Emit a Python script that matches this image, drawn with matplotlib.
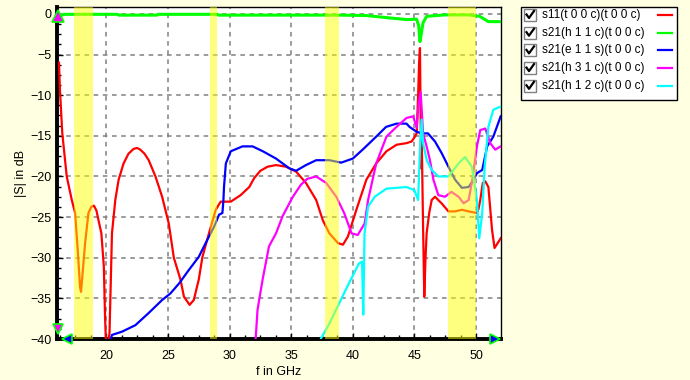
"""S-parameter magnitude plot with highlighted bands and a checkbox legend."""
import matplotlib
matplotlib.use("Agg")
import matplotlib.pyplot as plt
from matplotlib.patches import Rectangle
from matplotlib.lines import Line2D
from matplotlib.ticker import MultipleLocator

plt.rcParams["font.family"] = ["Liberation Sans", "DejaVu Sans"]

# band limits in GHz
bands = [(17.35, 18.95), (28.45, 28.95), (37.75, 38.85), (47.7, 50.0)]

s11_f = [16.16, 16.24, 16.43, 16.79, 17.2, 17.47, 17.68, 17.87, 17.95, 18.1, 18.28,
         18.55, 18.8, 19.0, 19.2, 19.37, 19.6, 19.8, 19.9, 19.97, 20.1, 20.26, 20.46,
         20.73, 21.0, 21.4, 21.8, 22.22, 22.5, 22.76, 23.1, 23.44, 23.99, 24.53, 25.07,
         25.48, 26.02, 26.3, 26.76, 27.1, 27.5, 27.8, 28.33, 28.88, 29.28, 30.1, 30.9,
         31.6, 32.0, 32.5, 33.09, 33.77, 34.58, 35.4, 36.2, 37.03, 37.57, 38.1, 38.8,
         39.2, 39.6, 40.29, 41.1, 41.9, 42.73, 43.55, 44.36, 44.77, 45.0, 45.18, 45.3,
         45.38, 45.45, 45.5, 45.55, 45.6, 45.7, 45.8, 45.9, 45.99, 46.2, 46.4, 46.67,
         47.2, 47.76, 48.3, 48.85, 49.4, 50.07, 50.2, 50.34, 50.55, 50.75, 51.0, 51.3,
         51.5, 51.84, 52.0]
s11_db = [-6.0, -9.4, -14.7, -20.0, -22.9, -24.5, -29.0, -33.6, -34.2, -31.5, -28.2,
          -24.5, -23.7, -23.6, -24.2, -25.4, -27.0, -31.1, -37.3, -40.5, -41.0, -39.3, -27.0,
          -22.9, -20.4, -18.4, -17.2, -16.6, -16.5, -16.7, -17.2, -18.0, -20.0, -22.5, -25.8,
          -30.0, -32.7, -34.8, -35.8, -35.2, -32.7, -29.9, -27.0, -24.1, -23.1, -23.1, -22.3,
          -21.3, -20.2, -19.3, -18.8, -18.6, -18.8, -19.4, -20.8, -22.9, -25.4, -27.0, -28.2,
          -28.4, -27.4, -24.1, -20.4, -18.4, -16.9, -16.1, -15.9, -15.7, -15.2, -14.7, -10.0,
          -6.0, -4.2, -12.0, -19.0, -16.0, -26.0, -34.8, -30.0, -27.0, -24.5, -22.9, -22.5,
          -23.3, -24.3, -24.3, -24.1, -24.3, -24.5, -24.0, -22.9, -20.8, -20.6, -21.3, -26.6,
          -28.8, -28.0, -27.6]

h11_f = [16.1, 16.3, 16.6, 20.9, 21.0, 24.1, 24.2, 29.0, 29.1, 39.0, 41.1, 43.0, 44.4,
         45.18, 45.35, 45.45, 45.55, 45.7, 45.99, 47.48, 49.4, 50.3, 51.0, 52.0]
h11_db = [-0.5, -0.2, -0.05, -0.05, -0.15, -0.15, -0.05, -0.05, -0.15, -0.15, -0.2, -0.5, -0.7,
          -0.65, -1.5, -3.4, -2.5, -1.1, -0.3, -0.12, -0.12, -0.3, -0.95, -0.95]

e11_f = [20.3, 20.46, 21.27, 22.36, 23.44, 24.53, 25.2, 25.94, 26.7, 27.5, 28.06, 28.74,
         29.15, 29.42, 29.5, 29.55, 29.7, 30.1, 31.05, 31.87, 32.7, 33.77, 34.85, 35.4,
         36.2, 37.03, 38.1, 39.06, 40.0, 40.8, 41.9, 42.7, 43.55, 44.36, 44.6, 45.18,
         45.58, 46.1, 46.67, 47.2, 47.76, 48.3, 48.85, 49.4, 49.8, 50.07, 50.5, 50.9,
         51.4, 52.0]
e11_db = [-40.3, -39.5, -39.1, -38.3, -36.8, -35.2, -34.4, -33.1, -31.5, -29.9, -28.2, -26.2,
          -24.7, -24.5, -23.0, -21.3, -18.4, -16.9, -16.3, -16.3, -16.9, -17.8, -19.0, -19.3,
          -18.6, -18.0, -18.0, -18.3, -17.8, -16.7, -15.1, -13.9, -13.5, -13.5, -13.9, -14.5,
          -14.7, -14.7, -15.7, -17.1, -18.8, -20.4, -21.4, -21.3, -20.4, -19.6, -19.2, -16.3,
          -15.1, -12.6]

h31_f = [32.1, 32.13, 32.27, 32.68, 33.2, 33.77, 34.3, 35.1, 35.4, 35.8, 36.3, 37.03, 37.84,
         38.66, 39.3, 39.9, 40.4, 40.96, 41.24, 41.9, 42.73, 43.55, 44.36, 44.9, 45.18,
         45.35, 45.5, 45.6, 45.7, 45.99, 46.26, 46.54, 46.94, 47.48, 48.0, 48.58, 48.99,
         49.4, 49.7, 50.07, 50.34, 50.75, 51.15, 51.56, 52.0]
h31_db = [-40.5, -39.7, -36.4, -32.7, -28.6, -27.0, -24.9, -22.6, -21.9, -21.0, -20.3, -20.0, -20.8,
          -22.5, -24.5, -27.0, -27.2, -25.8, -22.9, -18.4, -15.1, -13.9, -12.8, -12.6, -14.0,
          -11.0, -9.6, -12.0, -14.7, -16.3, -18.0, -20.4, -22.3, -22.5, -21.9, -22.5, -23.3,
          -22.9, -20.4, -16.3, -14.3, -14.1, -15.9, -16.7, -16.3]

h12_f = [37.3, 37.43, 38.1, 38.9, 39.7, 40.5, 40.75, 40.85, 40.95, 41.24, 41.78, 42.73,
         44.36, 45.0, 45.3, 45.45, 45.58, 45.7, 46.0, 46.4, 46.94, 47.76, 48.58, 49.1,
         49.66, 50.07, 50.26, 50.5, 50.7, 51.0, 51.4, 52.0]
h12_db = [-40.5, -39.9, -38.1, -35.6, -33.1, -30.7, -30.5, -37.0, -27.0, -23.7, -22.5, -21.5,
          -21.3, -21.7, -22.9, -16.7, -13.0, -15.9, -18.0, -19.2, -20.0, -20.0, -18.4, -17.6,
          -18.8, -22.9, -27.6, -24.5, -18.8, -13.9, -11.8, -11.4]

labels = ["s11(t 0 0 c)(t 0 0 c)", "s21(h 1 1 c)(t 0 0 c)", "s21(e 1 1 s)(t 0 0 c)",
          "s21(h 3 1 c)(t 0 0 c)", "s21(h 1 2 c)(t 0 0 c)"]
colors = ["#ff0000", "#00ff00", "#0000ff", "#ff00ff", "#00ffff"]
series = [(s11_f, s11_db), (h11_f, h11_db), (e11_f, e11_db), (h31_f, h31_db), (h12_f, h12_db)]
widths = [1.6, 2.2, 1.6, 1.6, 1.6]

fig = plt.figure(figsize=(6.9, 3.8), dpi=100, facecolor="#ffffe1")
ax = fig.add_axes([57 / 690, 1 - 339 / 380, (500.7 - 57) / 690, (339 - 7) / 380])
ax.set_facecolor("white")

for (f, db), c, lw in zip(series, colors, widths):
    ax.plot(f, db, color=c, lw=lw, zorder=3)

for lo, hi in bands:
    ax.axvspan(lo, hi, color="#ffff00", alpha=0.5, lw=0, zorder=4)

ax.set_xlim(16, 52)
ax.set_ylim(-40, 0.85)
ax.xaxis.set_major_locator(MultipleLocator(5))
ax.xaxis.set_minor_locator(MultipleLocator(1.25))
ax.yaxis.set_major_locator(MultipleLocator(5))
ax.yaxis.set_minor_locator(MultipleLocator(1.25))
ax.grid(True, which="major", color="#808080", ls=(0, (3, 3)), lw=1.1, zorder=1)
ax.tick_params(which="both", direction="in", length=4, width=1, labelsize=9, color="black")
ax.tick_params(axis="x", pad=8)
ax.tick_params(axis="y", pad=4)
ax.tick_params(which="minor", length=3)
for side in ["left", "bottom"]:
    ax.spines[side].set_linewidth(2.8)
for side in ["top", "right"]:
    ax.spines[side].set_linewidth(1.0)
ax.set_xlabel("f in GHz", fontsize=9, labelpad=3)
ax.set_ylabel("|S| in dB", fontsize=9, labelpad=2)

# cursor markers at the axis ends
mk = dict(ms=7, mec="#00ff00", mew=1.2, clip_on=False, zorder=6, ls="none")
ax.plot([16.1], [-0.2], marker="^", mfc="#ff00ff", ms=8, mec="#00ff00", mew=1.2,
        clip_on=False, zorder=6, ls="none")
ax.plot([16.1], [-38.8], marker="v", mfc="#ff00ff", **mk)
ax.plot([16.8], [-40], marker="<", mfc="#0000ff", **mk)
ax.plot([51.5], [-40], marker=">", mfc="#0000ff", **mk)

# legend with check boxes
px = lambda x: x / 690
py = lambda y: 1 - y / 380
fig.patches.append(Rectangle((px(521), py(100)), px(156), 93 / 380, transform=fig.transFigure,
                             facecolor="white", edgecolor="black", lw=1))
for i, (lab, c) in enumerate(zip(labels, colors)):
    yc = 15 + i * 17.7
    fig.patches.append(Rectangle((px(524), py(yc + 6)), px(12), 12 / 380, transform=fig.transFigure,
                                 facecolor="white", edgecolor="#808080", lw=1))
    fig.lines.append(Line2D([px(526.5), px(529), px(534)], [py(yc - 0.5), py(yc + 3), py(yc - 4)],
                            transform=fig.transFigure, color="black", lw=1.6))
    fig.text(px(542.5), py(yc), lab, fontsize=8.5, va="center", ha="left")
    fig.lines.append(Line2D([px(658), px(672)], [py(yc), py(yc)], transform=fig.transFigure,
                            color=c, lw=1.6))

fig.savefig("out.png", dpi=100, facecolor=fig.get_facecolor())
